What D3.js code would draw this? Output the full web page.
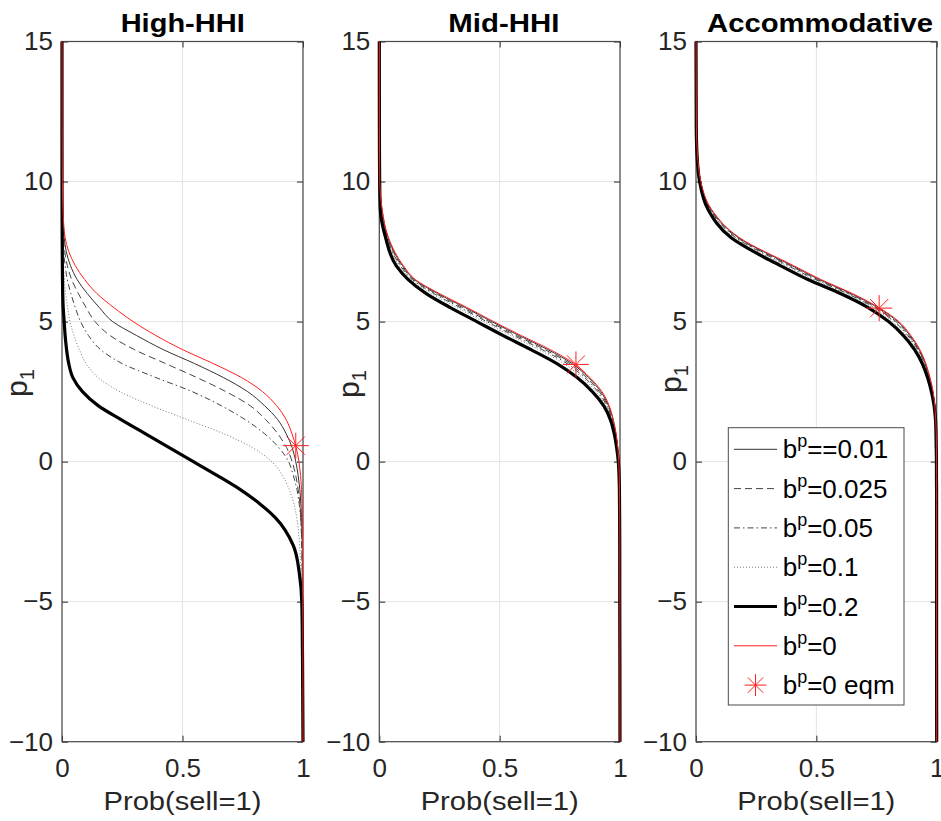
<!DOCTYPE html>
<html>
<head>
<meta charset="utf-8">
<script src="https://cdn.jsdelivr.net/npm/d3@7"></script>
<style>
  body { margin: 0; background: #fff; }
  svg text { font-family: "Liberation Sans", Arial, Helvetica, sans-serif; }
</style>
</head>
<body>
<svg id="chart" width="941" height="821"></svg>
<script>
// Price levels p1 (shared vertical grid for every curve)
const pLevels = [15, 12, 11, 10, 9, 8, 7, 6.5, 6, 5.5, 5, 4.5, 4, 3.5, 3, 2.5, 2, 1.5, 1, 0.5, 0, -0.5, -1, -1.5, -2, -3, -4, -5, -7, -10];

// Prob(sell=1) at each price level — High-HHI
const highB001  = [0, .0004, .0007, .001, .003, .009, .035, .063, .105, .155, .21, .31, .42, .55, .67, .77, .84, .895, .93, .955, .97, .98, .987, .991, .994, .997, .998, .999, .9995, 1];
const highB0025 = [0, .0003, .0005, .0008, .002, .006, .022, .04, .068, .1, .137, .2, .3, .43, .56, .68, .78, .845, .895, .932, .955, .97, .98, .987, .991, .995, .997, .998, .999, 1];
const highB005  = [0, .0002, .0004, .0006, .0015, .004, .013, .022, .037, .055, .077, .11, .16, .25, .39, .54, .66, .76, .84, .9, .94, .96, .975, .984, .99, .995, .997, .998, .999, 1];
const highB01   = [0, .0001, .0002, .0004, .001, .0025, .006, .01, .015, .023, .033, .05, .072, .1, .15, .24, .37, .52, .67, .79, .87, .915, .943, .962, .974, .986, .992, .995, .998, 1];
const highB02   = [0, 0, .0001, .0001, .0003, .0008, .0015, .002, .003, .005, .009, .013, .019, .028, .045, .085, .15, .245, .345, .445, .545, .645, .74, .82, .885, .96, .985, .995, .998, 1];
const highB0    = [0, .0005, .001, .0015, .004, .013, .055, .094, .145, .215, .295, .39, .5, .628, .745, .832, .89, .93, .954, .972, .983, .99, .994, .996, .997, .998, .999, .999, .9995, 1];

// Prob(sell=1) at each price level — Mid-HHI
const midB001  = [0, .0005, .001, .002, .011, .0366, .096, .146, .243, .357, .467, .581, .70, .801, .869, .92, .952, .971, .983, .99, .995, .997, .998, .998, .999, .9995, .9995, .9995, .9995, 1];
const midB0025 = [0, .0004, .0009, .0019, .0098, .0348, .092, .142, .235, .346, .456, .57, .688, .791, .861, .914, .949, .969, .982, .99, .994, .997, .998, .998, .999, .999, .9995, .9995, .9995, 1];
const midB005  = [0, .0004, .0009, .0018, .0086, .033, .087, .137, .227, .336, .446, .559, .676, .78, .853, .908, .945, .967, .981, .989, .994, .996, .998, .998, .999, .999, .9995, .9995, .9995, 1];
const midB01   = [0, .0004, .0008, .0017, .0072, .0308, .082, .132, .217, .323, .433, .545, .662, .767, .843, .901, .941, .965, .979, .988, .994, .996, .998, .998, .999, .999, .999, .9995, .9995, 1];
const midB02   = [0, .0003, .0007, .0015, .004, .026, .07, .12, .195, .295, .405, .515, .63, .738, .822, .885, .932, .96, .976, .986, .993, .996, .9975, .998, .9985, .999, .999, .999, .9995, 1];
const midB0    = [0, .0005, .001, .002, .012, .038, .1, .15, .25, .365, .475, .59, .71, .81, .875, .925, .955, .972, .984, .991, .995, .997, .998, .9985, .999, .9995, .9995, .9995, .9995, 1];

// Prob(sell=1) at each price level — Accommodative
const accB001  = [0, .0014, .006, .019, .063, .176, .398, .513, .644, .755, .838, .889, .927, .953, .971, .984, .992, .996, .998, .999, .999, .9995, .9995, .9995, .9995, .9995, .9995, .9995, .9995, 1];
const accB0025 = [0, .0014, .0055, .019, .061, .171, .39, .505, .637, .748, .831, .885, .924, .951, .969, .983, .991, .996, .998, .999, .999, .9995, .9995, .9995, .9995, .9995, .9995, .9995, .9995, 1];
const accB005  = [0, .0013, .005, .018, .059, .165, .382, .497, .629, .741, .825, .88, .921, .949, .968, .982, .99, .996, .997, .998, .999, .999, .9995, .9995, .9995, .9995, .9995, .9995, .9995, 1];
const accB01   = [0, .0012, .0048, .017, .056, .159, .372, .487, .62, .733, .817, .874, .917, .946, .966, .981, .99, .995, .997, .998, .999, .999, .9995, .9995, .9995, .9995, .9995, .9995, .9995, 1];
const accB02   = [0, .001, .004, .015, .05, .145, .35, .465, .6, .715, .80, .862, .908, .94, .962, .978, .989, .995, .997, .998, .999, .999, .9995, .9995, .9995, .9995, .9995, .9995, .9995, 1];
const accB0    = [0, .0015, .006, .02, .065, .18, .405, .52, .65, .76, .843, .893, .93, .955, .972, .985, .992, .996, .998, .999, .9995, .9995, .9995, .9995, .9995, .9995, .9995, .9995, .9995, 1];

// Equilibrium points for b^p = 0  [Prob(sell=1), p1]
const eqmHigh = [0.97, 0.57];
const eqmMid  = [0.817, 3.47];
const eqmAcc  = [0.761, 5.48];

// Axis ticks
const xTicks = [0, 0.5, 1];
const xTickLabels = ["0", "0.5", "1"];
const yTicks = [-10, -5, 0, 5, 10, 15];
const panelTitles = ["High-HHI", "Mid-HHI", "Accommodative"];
const legendLabels = ["==0.01", "=0.025", "=0.05", "=0.1", "=0.2", "=0", "=0 eqm"];

// Line styles, in plotting order (b^p = 0.01, 0.025, 0.05, 0.1, 0.2, 0)
const styles = [
  { stroke: "#333333", width: 1,   dash: null },
  { stroke: "#444444", width: 1,   dash: "7,4" },
  { stroke: "#444444", width: 1,   dash: "6,3,1.5,3" },
  { stroke: "#666666", width: 0.9, dash: "1,2" },
  { stroke: "#000000", width: 3.2, dash: null },
  { stroke: "#ff1f1f", width: 1,   dash: null }
];

const panels = [
  { title: panelTitles[0], series: [highB001, highB0025, highB005, highB01, highB02, highB0], eqm: eqmHigh,
    left: 62, right: 303, titleX: 182.7, titleW: 124, ylabX: 27, ylabY: 383 },
  { title: panelTitles[1], series: [midB001, midB0025, midB005, midB01, midB02, midB0], eqm: eqmMid,
    left: 379.3, right: 620, titleX: 503.8, titleW: 111, ylabX: 359, ylabY: 384 },
  { title: panelTitles[2], series: [accB001, accB0025, accB005, accB01, accB02, accB0], eqm: eqmAcc,
    left: 696, right: 936.7, titleX: 820, titleW: 226, ylabX: 681, ylabY: 379 }
];

const plotTop = 41.5, plotBottom = 741.7;
const axisColor = "#262626";
const svg = d3.select("#chart");

const y = d3.scaleLinear().domain([-10, 15]).range([plotBottom, plotTop]);

// asterisk marker: plus + cross
const starPath = r => {
  const d = r * 0.7;
  return `M${-r},0H${r}M0,${-r}V${r}M${-d},${-d}L${d},${d}M${-d},${d}L${d},${-d}`;
};

panels.forEach(pn => {
  const x = d3.scaleLinear().domain([0, 1]).range([pn.left, pn.right]);
  const g = svg.append("g");

  // grid
  g.append("g").selectAll("line").data(xTicks).join("line")
    .attr("x1", d => x(d)).attr("x2", d => x(d))
    .attr("y1", plotTop).attr("y2", plotBottom)
    .attr("stroke", "#e3e3e3").attr("stroke-width", 1);
  g.append("g").selectAll("line").data(yTicks).join("line")
    .attr("x1", pn.left).attr("x2", pn.right)
    .attr("y1", d => y(d)).attr("y2", d => y(d))
    .attr("stroke", "#e3e3e3").attr("stroke-width", 1);

  // axes with inward ticks on all four sides
  const styleAxis = sel => {
    sel.select(".domain").remove();
    sel.selectAll(".tick line").attr("stroke", axisColor).attr("stroke-width", 1);
    sel.selectAll(".tick text").attr("fill", axisColor).attr("font-size", 26)
      .attr("font-family", "'Liberation Sans', Arial, sans-serif");
  };
  g.append("g").attr("transform", `translate(${pn.left},0)`)
    .call(d3.axisLeft(y).tickValues(yTicks).tickSize(-6).tickPadding(9).tickFormat(d3.format("d")))
    .call(styleAxis);
  g.append("g").attr("transform", `translate(${pn.right},0)`)
    .call(d3.axisRight(y).tickValues(yTicks).tickSize(-6).tickFormat(""))
    .call(styleAxis);
  g.append("g").attr("transform", `translate(0,${plotBottom})`)
    .call(d3.axisBottom(x).tickValues(xTicks).tickSize(-6).tickPadding(16.5).tickFormat((d, i) => xTickLabels[i]))
    .call(styleAxis);
  g.append("g").attr("transform", `translate(0,${plotTop})`)
    .call(d3.axisTop(x).tickValues(xTicks).tickSize(-6).tickFormat(""))
    .call(styleAxis);

  // box
  g.append("rect")
    .attr("x", pn.left).attr("y", plotTop)
    .attr("width", pn.right - pn.left).attr("height", plotBottom - plotTop)
    .attr("fill", "none").attr("stroke", "#4a4a4a").attr("stroke-width", 1.2);

  // curves
  const line = d3.line()
    .x(d => x(d[0]))
    .y(d => y(d[1]))
    .curve(d3.curveMonotoneY);
  pn.series.forEach((probs, i) => {
    const st = styles[i];
    g.append("path")
      .datum(pLevels.map((p, k) => [probs[k], p]))
      .attr("d", line)
      .attr("fill", "none")
      .attr("stroke", st.stroke)
      .attr("stroke-width", st.width)
      .attr("stroke-dasharray", st.dash)
      .attr("stroke-linejoin", "round");
  });

  // equilibrium marker
  g.append("path")
    .attr("transform", `translate(${x(pn.eqm[0])},${y(pn.eqm[1])})`)
    .attr("d", starPath(13))
    .attr("stroke", "#ff1f1f").attr("stroke-width", 1).attr("fill", "none");

  // title
  g.append("text")
    .attr("x", pn.titleX).attr("y", 31.5)
    .attr("text-anchor", "middle")
    .attr("font-size", 26).attr("font-weight", "bold").attr("fill", "#000")
    .attr("textLength", pn.titleW)
    .attr("lengthAdjust", "spacingAndGlyphs")
    .text(pn.title);

  // x label
  g.append("text")
    .attr("x", (pn.left + pn.right) / 2).attr("y", 810)
    .attr("text-anchor", "middle")
    .attr("font-size", 26).attr("fill", axisColor)
    .attr("textLength", 158).attr("lengthAdjust", "spacingAndGlyphs")
    .text("Prob(sell=1)");

  // y label p_1
  const yl = g.append("text")
    .attr("transform", `translate(${pn.ylabX},${pn.ylabY}) rotate(-90)`)
    .attr("text-anchor", "middle")
    .attr("font-size", 30).attr("fill", axisColor);
  yl.append("tspan").text("p");
  yl.append("tspan").attr("font-size", 20).attr("dy", 7).text("1");
});

// legend (in the Accommodative panel)
const lg = svg.append("g");
lg.append("rect")
  .attr("x", 728.3).attr("y", 427.7).attr("width", 175.7).attr("height", 277.3)
  .attr("fill", "#fff").attr("stroke", "#4a4a4a").attr("stroke-width", 1);
legendLabels.forEach((lab, i) => {
  const cy = 449.3 + i * 39.3;
  if (i < styles.length) {
    const st = styles[i];
    lg.append("line")
      .attr("x1", 734).attr("x2", 777).attr("y1", cy).attr("y2", cy)
      .attr("stroke", st.stroke).attr("stroke-width", st.width)
      .attr("stroke-dasharray", st.dash);
  } else {
    lg.append("path")
      .attr("transform", `translate(755.5,${cy})`)
      .attr("d", starPath(11))
      .attr("stroke", "#ff1f1f").attr("stroke-width", 1).attr("fill", "none");
  }
  const t = lg.append("text")
    .attr("x", 782.7).attr("y", cy + 9)
    .attr("font-size", 26).attr("fill", "#000");
  t.append("tspan").text("b");
  t.append("tspan").attr("font-size", 18).attr("dy", -11).text("p");
  t.append("tspan").attr("dy", 11).text(lab);
});
</script>
</body>
</html>
